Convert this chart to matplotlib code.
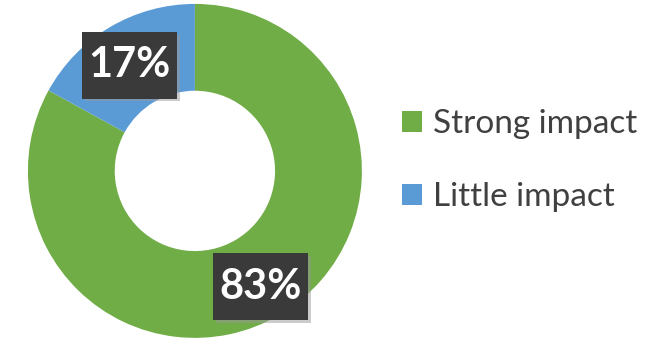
import matplotlib.pyplot as plt
import matplotlib.patheffects as pe

categories = ['Strong impact', 'Little impact']
shares = [83, 17]
colors = ['#70AD47', '#5B9BD5']

fig = plt.figure(figsize=(6.49, 3.42), dpi=100)
ax = fig.add_axes([0.043, 0.012, 0.5146, 0.9766])

wedges, _, autotexts = ax.pie(
    shares,
    colors=colors,
    startangle=90,
    counterclock=False,
    radius=1.0,
    wedgeprops=dict(width=0.52, edgecolor='none'),
    autopct=lambda p: f'{p:.0f}%',
    pctdistance=0.77,
)
for t in autotexts:
    x, y = t.get_position()
    t.set_position((x, y - 0.03))
    t.set_fontfamily('Lato')
    t.set_fontweight('bold')
    t.set_fontsize(30)
    t.set_color('white')
    # taller than wide padding, like a data-label callout box
    t.set_bbox(dict(boxstyle='square,pad=0.15', mutation_aspect=2.3,
                    facecolor='#3a3a3a', edgecolor='none'))
    t.get_bbox_patch().set_path_effects(
        [pe.SimplePatchShadow(offset=(2, -2), shadow_rgbFace='#999999', alpha=0.5),
         pe.Normal()])
ax.set_xlim(-1, 1)
ax.set_ylim(-1, 1)
ax.set_aspect('equal')

fig.legend(
    wedges, categories,
    loc='center left', bbox_to_anchor=(0.619, 0.530),
    frameon=False, borderpad=0, borderaxespad=0,
    handlelength=0.6, handleheight=0.6, handletextpad=0.35,
    labelspacing=1.3,
    prop=dict(family='Lato', size=24),
    labelcolor='#404040',
)

fig.savefig('out.png', dpi=100)
